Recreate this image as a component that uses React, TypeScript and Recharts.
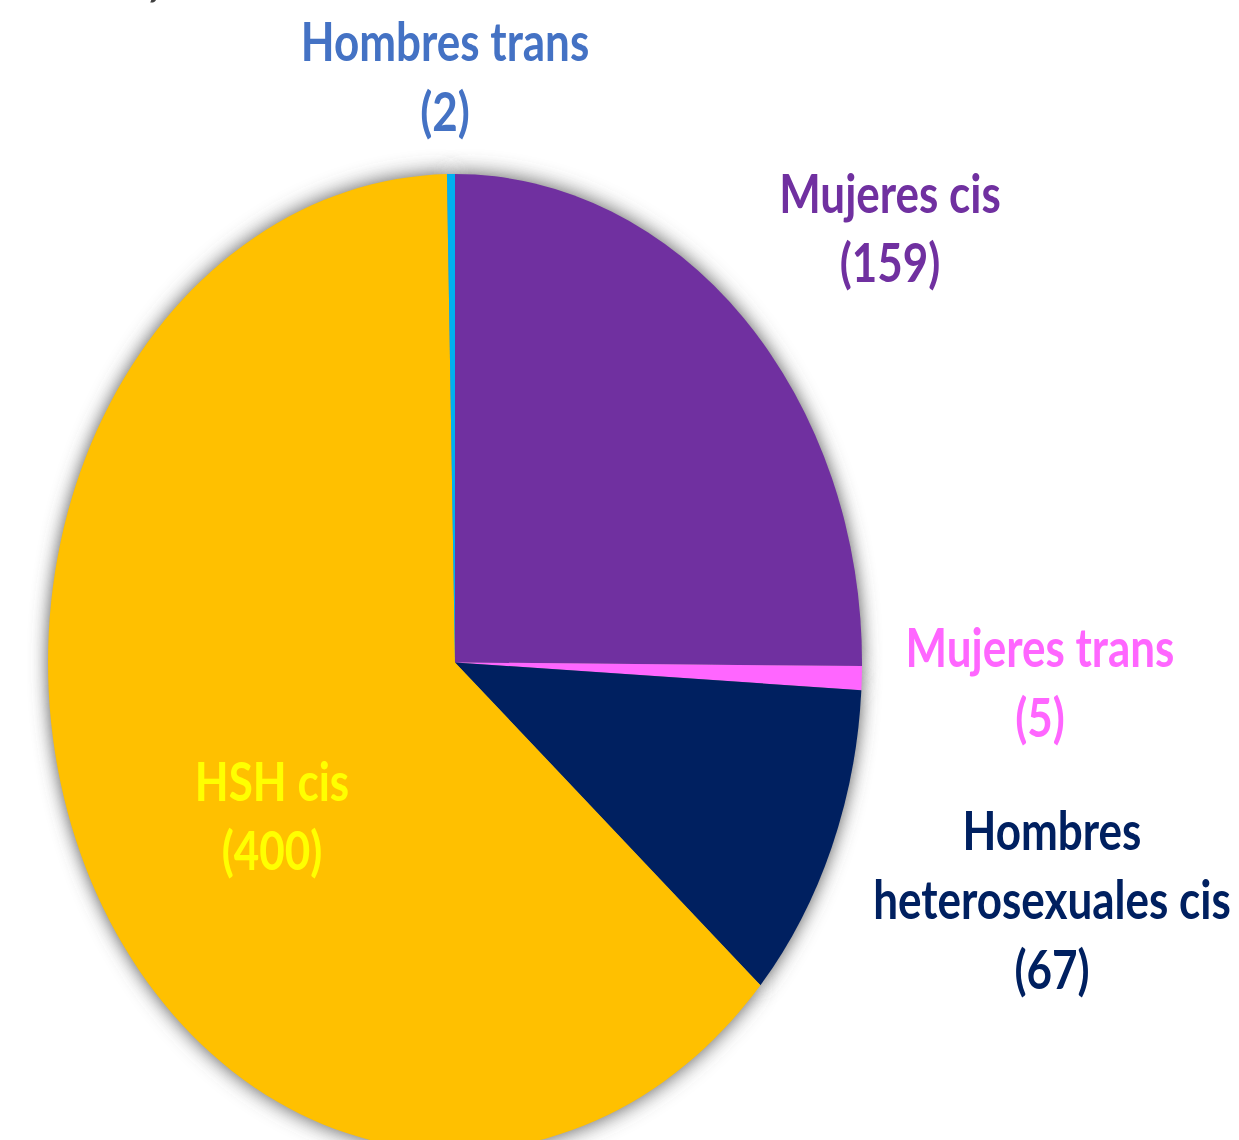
import * as React from "react"
import { PieChart, Pie, Cell } from "recharts"

// --- Data (clockwise from 12 o'clock) ---
const CATEGORIES = ["Mujeres cis", "Mujeres trans", "Hombres heterosexuales cis", "HSH cis", "Hombres trans"]
const VALUES = [159, 5, 67, 400, 2]
const SLICE_COLORS = ["#7030A0", "#FF66FF", "#002060", "#FFC000", "#00B0F0"]
const LABEL_COLORS = ["#7030A0", "#FF66FF", "#002060", "#FFFF00", "#4472C4"]

// label anchor offsets from pie centre (unscaled px)
const LABEL_OFFSETS: Record<string, [number, number]> = {
  "Mujeres cis": [435, -392],
  "Mujeres trans": [585, -13],
  "Hombres heterosexuales cis": [597, 139],
  "HSH cis": [-183, 98],
  "Hombres trans": [-10, -518],
}

const data = CATEGORIES.map((name, i) => ({ name, value: VALUES[i] }))

const W = 1239
const H = 1140
const STRETCH = 1.2 // the source image is stretched vertically
const INNER_H = H / STRETCH
const LINE_H = 58

const splitName = (name: string) => {
  if (name.length < 16) return [name]
  const i = name.indexOf(" ")
  return [name.slice(0, i), name.slice(i + 1)]
}

const renderLabel = (props: any) => {
  const { cx, cy, name, value, index } = props
  const [dx, dy] = LABEL_OFFSETS[name] || [0, 0]
  const lines = [...splitName(name), `(${value})`]
  return (
    <text
      key={`lbl-${index}`}
      x={cx + dx}
      textAnchor="middle"
      dominantBaseline="central"
      fill={LABEL_COLORS[index]}
      style={{ fontFamily: "Lato, 'Open Sans', sans-serif", fontWeight: 700, fontSize: 44 }}
    >
      {lines.map((l, j) => (
        <tspan key={j} x={cx + dx} y={cy + dy + j * LINE_H}>
          {l}
        </tspan>
      ))}
    </text>
  )
}

export default function App() {
  return (
    <div style={{ position: "absolute", left: 0, top: 0, width: W, height: H, overflow: "hidden", background: "#fff" }}>
      <div style={{ width: W, height: INNER_H, transform: `scaleY(${STRETCH})`, transformOrigin: "0 0" }}>
        <PieChart width={W} height={INNER_H} margin={{ top: 0, right: 0, bottom: 0, left: 0 }}>
          <defs>
            <filter id="pieBlur" filterUnits="userSpaceOnUse" x={0} y={0} width={W} height={INNER_H}>
              <feGaussianBlur in="SourceGraphic" stdDeviation={9} />
            </filter>
          </defs>
          <text
            x={5}
            y={0.4}
            fill="#404040"
            style={{ fontFamily: "Lato, sans-serif", fontWeight: 700, fontStyle: "italic", fontSize: 48 }}
          >
            CASOS/AS DE INFECCIÓN POR VIH SEGÚN CATEGORÍA
          </text>
          {/* blurred grey copy under the pie = soft shadow */}
          <Pie
            data={data}
            dataKey="value"
            nameKey="name"
            cx={455}
            cy={552}
            outerRadius={407}
            startAngle={90}
            endAngle={-270}
            stroke="none"
            labelLine={false}
            isAnimationActive={false}
            style={{ filter: "url(#pieBlur)" }}
          >
            {data.map((_, i) => (
              <Cell key={`sh-${i}`} fill="#555555" style={{ filter: "url(#pieBlur)" }} />
            ))}
          </Pie>
          <Pie
            data={data}
            dataKey="value"
            nameKey="name"
            cx={455}
            cy={552}
            outerRadius={407}
            startAngle={90}
            endAngle={-270}
            stroke="none"
            label={renderLabel}
            labelLine={false}
            isAnimationActive={false}
          >
            {data.map((_, i) => (
              <Cell key={`cell-${i}`} fill={SLICE_COLORS[i]} />
            ))}
          </Pie>
        </PieChart>
      </div>
    </div>
  )
}
